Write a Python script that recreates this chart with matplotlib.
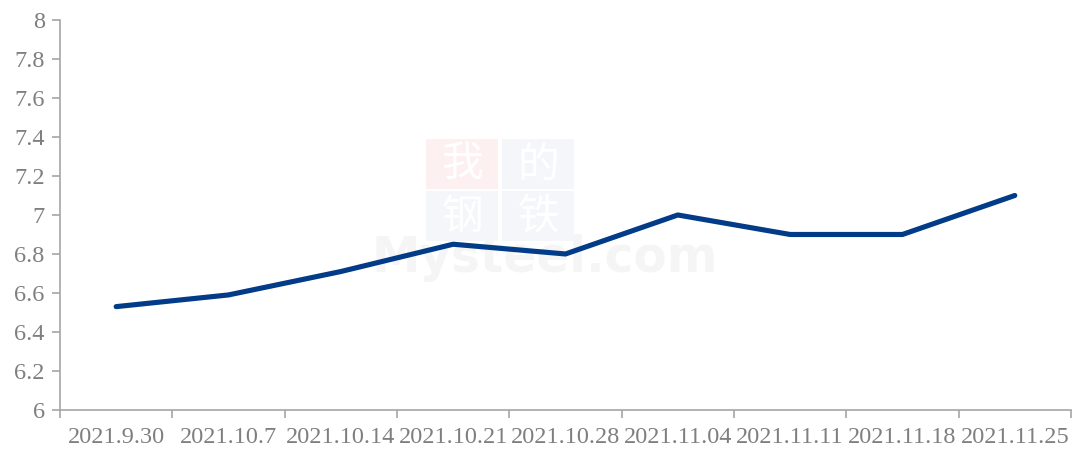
import numpy as np
import matplotlib
matplotlib.use("Agg")
import matplotlib.pyplot as plt
from matplotlib.patches import Rectangle

dates = ["2021.9.30", "2021.10.7", "2021.10.14", "2021.10.21", "2021.10.28",
         "2021.11.04", "2021.11.11", "2021.11.18", "2021.11.25"]
values = [6.53, 6.59, 6.71, 6.85, 6.80, 7.00, 6.90, 6.90, 7.10]
yticks = [6, 6.2, 6.4, 6.6, 6.8, 7, 7.2, 7.4, 7.6, 7.8, 8]

grey = "#7f7f7f"
fig = plt.figure(figsize=(10.73, 4.49), dpi=100)
ax = fig.add_axes([0.0559, 0.0869, 0.9422, 0.8686])

# watermark
wm = fig.add_axes([0, 0, 1, 1], zorder=0)
wm.set_xlim(0, 1073); wm.set_ylim(449, 0); wm.axis("off")
for (x0, y0, ch, fc) in [(426, 139, "我", "#fdf0f0"), (502, 139, "的", "#f4f6fa"),
                         (426, 191, "钢", "#f4f6fa"), (502, 191, "铁", "#f4f6fa")]:
    wm.add_patch(Rectangle((x0, y0), 72, 50, color=fc, lw=0))
    wm.text(x0 + 36, y0 + 26, ch, ha="center", va="center", fontsize=30,
            color="white", family="Noto Sans CJK SC")
wm.text(545, 258, "Mysteel.com", ha="center", va="center", fontsize=35,
        color="#f5f5f5", family="DejaVu Sans", fontweight="bold", zorder=-1)
ax.set_zorder(1)
ax.patch.set_alpha(0)

x = np.arange(len(dates))
ax.plot(x, values, color="#023b87", lw=3.7, solid_capstyle="round")

ax.set_xlim(-0.5, len(dates) - 0.5)
ax.set_ylim(6, 8)
ax.set_yticks(yticks)
ax.set_yticklabels([f"{v:g}" for v in yticks])
ax.set_xticks(np.arange(-0.5, len(dates)), minor=False)
ax.set_xticklabels([])
ax.set_xticks(x, minor=True)
ax.set_xticklabels(dates, minor=True)

for s in ["top", "right"]:
    ax.spines[s].set_visible(False)
for s in ["left", "bottom"]:
    ax.spines[s].set_color("#a6a6a6")
    ax.spines[s].set_linewidth(1.2)

for lab in ax.get_yticklabels() + ax.get_xticklabels(minor=True):
    lab.set_fontfamily("Liberation Serif")
    lab.set_fontsize(17.5)
    lab.set_color(grey)

ax.tick_params(axis="both", which="major", length=6, width=1.2, color="#a6a6a6")
ax.tick_params(axis="x", which="minor", length=0, pad=12)
ax.tick_params(axis="y", pad=5)

fig.savefig("out.png", dpi=100)
